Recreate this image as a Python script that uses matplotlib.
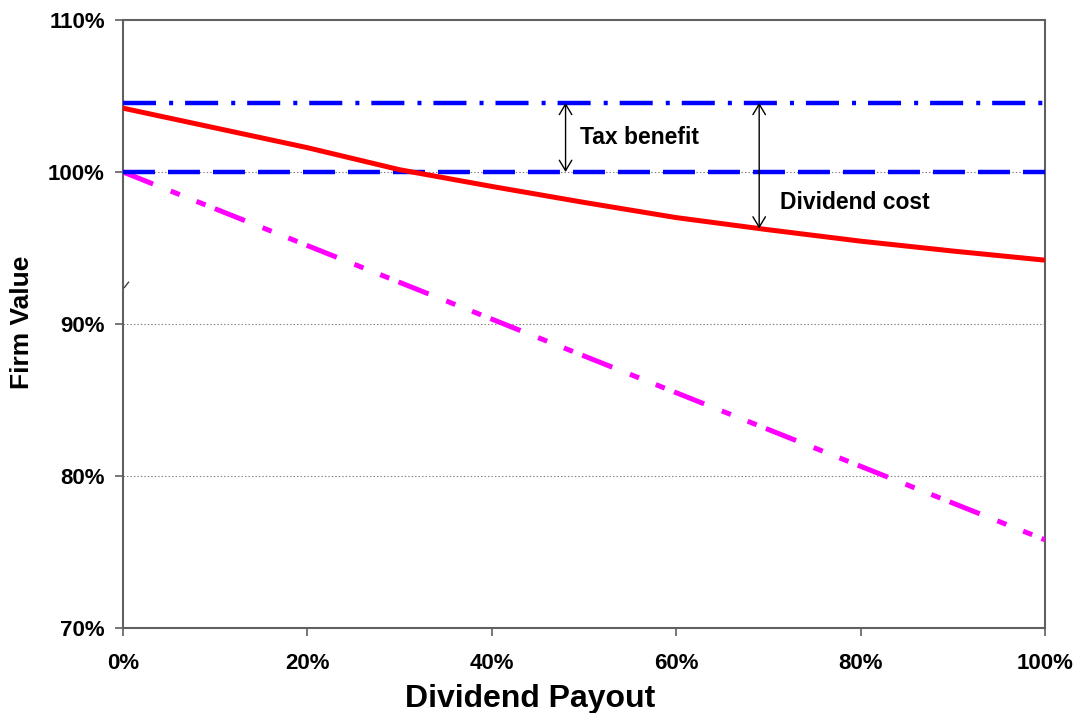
import matplotlib.pyplot as plt

plt.rcParams['font.family'] = ['Liberation Sans', 'DejaVu Sans']
plt.rcParams['font.weight'] = 'bold'
plt.rcParams['lines.scale_dashes'] = False

## data (percent)
payout = [0, 10, 20, 30, 40, 50, 60, 70, 80, 90, 100]
firm_value = [104.2, 102.9, 101.6, 100.15, 99.05, 98.0, 97.0, 96.2, 95.45, 94.8, 94.2]

flat_x = [0, 100]
no_tax_value = [100, 100]
tax_benefit_value = [104.55, 104.55]
no_benefit_x = [0, 100]
no_benefit_value = [100, 75.8]

tax_arrow_x = 48
cost_arrow_x = 69
cost_arrow_low = 96.28

yticks = [70, 80, 90, 100, 110]
xticks = [0, 20, 40, 60, 80, 100]

fig = plt.figure(figsize=(10.77, 7.13), dpi=100)
ax = fig.add_axes([123 / 1077, 85 / 713, 922 / 1077, 608 / 713])

# gridlines behind the curves
for yv in [80, 90, 100]:
    ax.axhline(yv, color='#808080', lw=0.8, ls=(0, (1, 1.5)), zorder=1)

ax.plot(no_benefit_x, no_benefit_value, color='#FF00FF', lw=3.6,
        ls=(0, (23.3, 13.7, 7, 13, 7, 7.2)), zorder=3)
ax.plot(flat_x, no_tax_value, color='#0000FF', lw=3.2,
        ls=(0, (23, 9.4)), zorder=3)
ax.plot(flat_x, tax_benefit_value, color='#0000FF', lw=3.2,
        ls=(0, (23.8, 9.4, 2.9, 8.6)), zorder=3)
ax.plot(payout, firm_value, color='#FF0000', lw=3.6, zorder=4,
        solid_joinstyle='round')

# arrows showing the gaps
arrow = dict(arrowstyle='<->,head_length=0.5,head_width=0.3', lw=1,
             color='black', shrinkA=0, shrinkB=0, mutation_scale=15)
ax.annotate('', xy=(tax_arrow_x, no_tax_value[0]),
            xytext=(tax_arrow_x, tax_benefit_value[0]), arrowprops=arrow, zorder=5)
ax.annotate('', xy=(cost_arrow_x, cost_arrow_low),
            xytext=(cost_arrow_x, tax_benefit_value[0]), arrowprops=arrow, zorder=5)
ax.text(49.6, 102.3, 'Tax benefit', fontsize=16.5, fontweight='bold', va='center', ha='left')
ax.text(71.3, 98.0, 'Dividend cost', fontsize=16.5, fontweight='bold', va='center', ha='left')

# axis break mark
ax.plot([0.15, 0.6], [92.4, 92.75], color='#404040', lw=1, clip_on=False, zorder=6)

ax.set_xlim(0, 100)
ax.set_ylim(70, 110)
ax.set_xticks(xticks)
ax.set_yticks(yticks)
ax.set_xticklabels([f'{v}%' for v in xticks])
ax.set_yticklabels([f'{v}%' for v in yticks])
ax.tick_params(axis='both', labelsize=16, length=6, color='#606060', width=1.2)
ax.tick_params(axis='y', pad=7)
ax.tick_params(axis='x', pad=12)
for lab in ax.get_xticklabels() + ax.get_yticklabels():
    lab.set_fontweight('bold')
for sp in ax.spines.values():
    sp.set_color('#606060')
    sp.set_linewidth(1.5)

fig.text(530 / 1077, 1 - 699 / 713, 'Dividend Payout', fontsize=23, fontweight='bold',
         ha='center', va='center')
fig.text(22 / 1077, 1 - 322 / 713, 'Firm Value', fontsize=19, fontweight='bold',
         ha='center', va='center', rotation=90)

fig.savefig('out.png', dpi=100)
